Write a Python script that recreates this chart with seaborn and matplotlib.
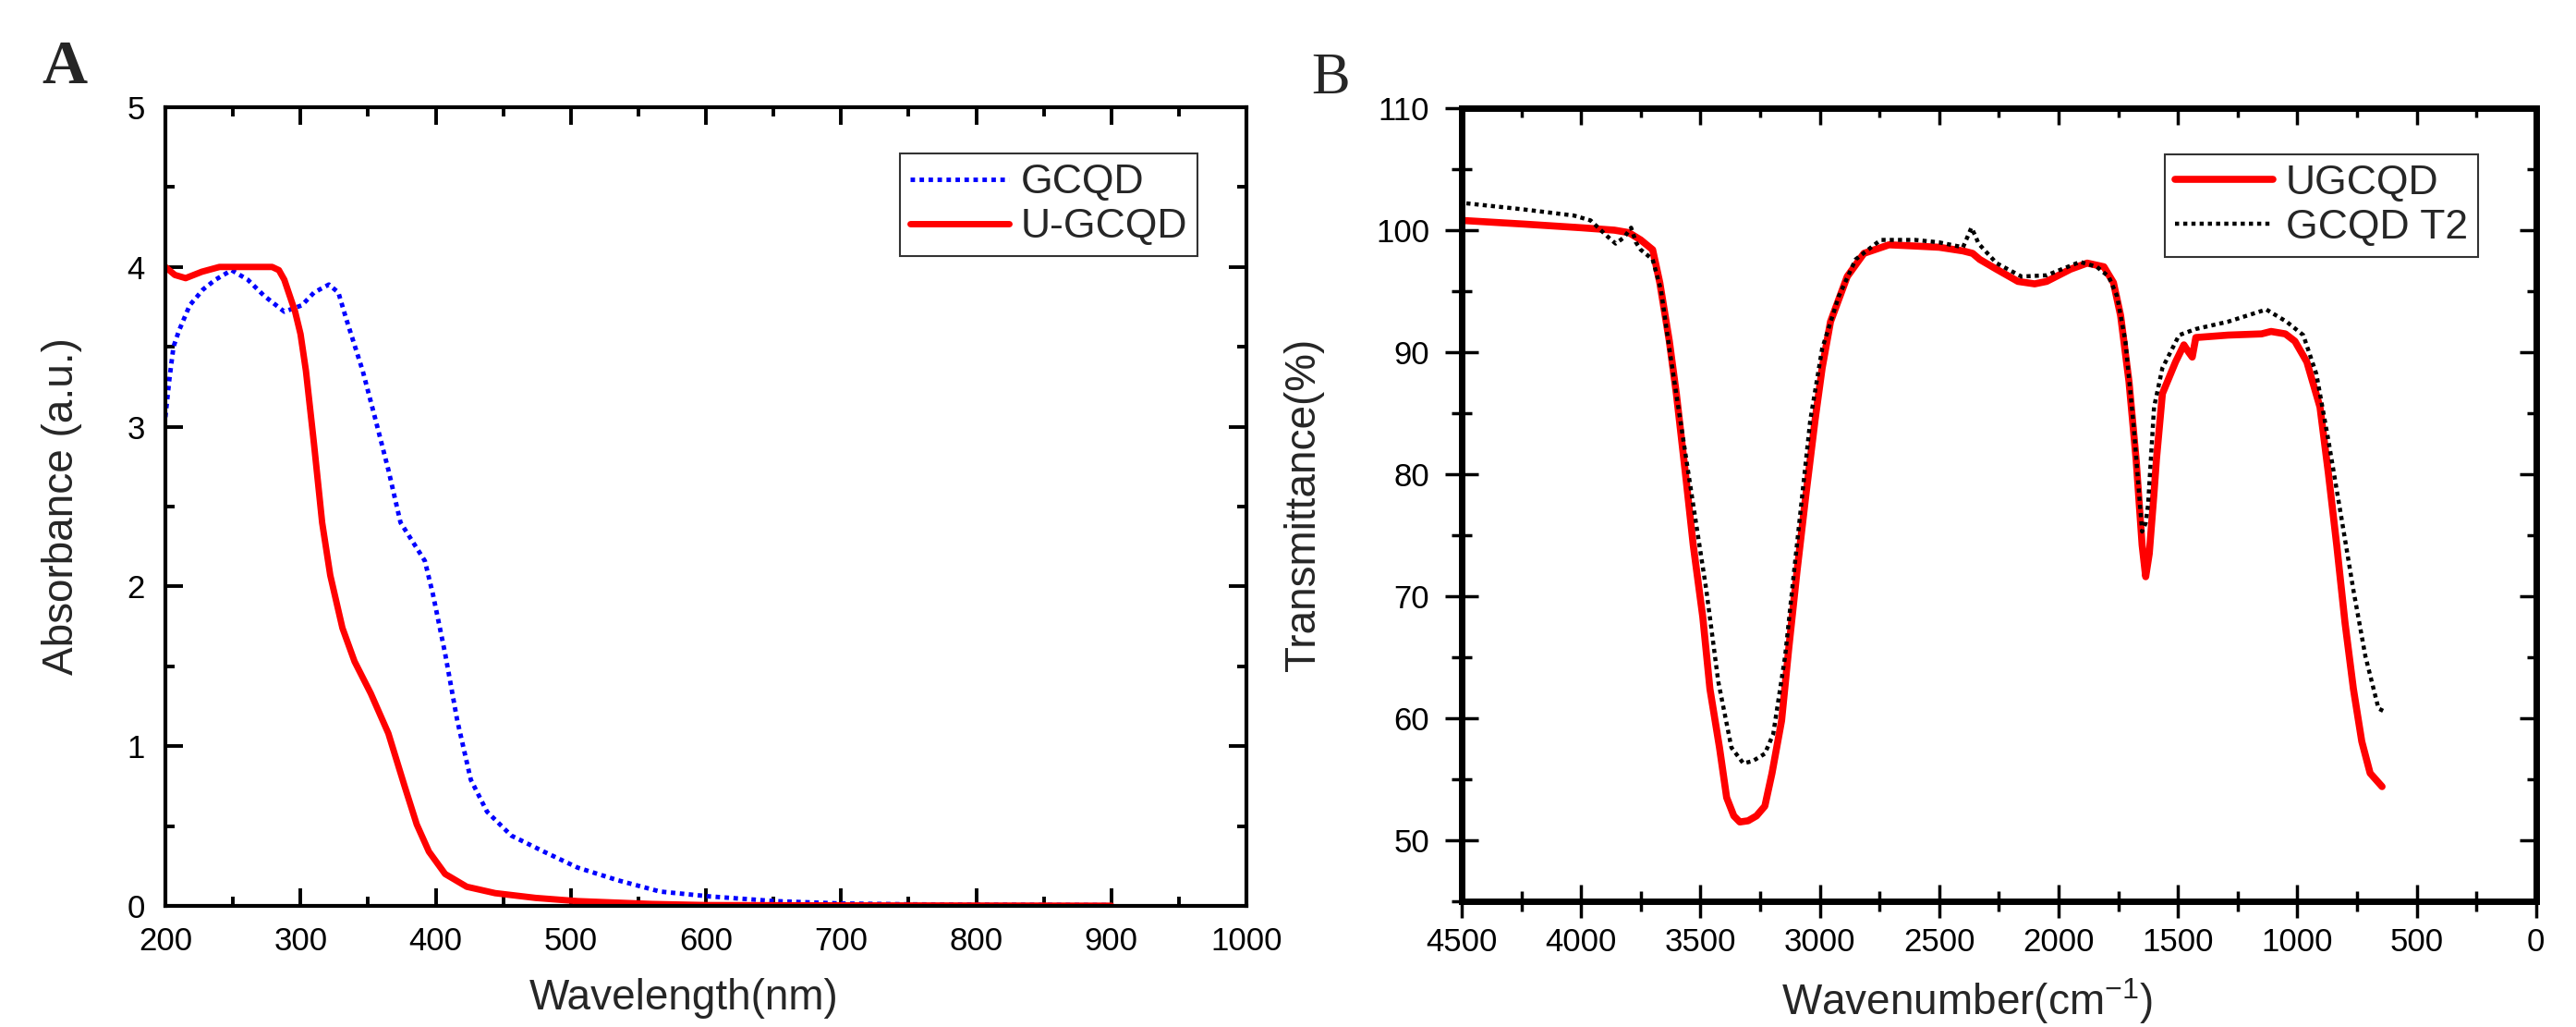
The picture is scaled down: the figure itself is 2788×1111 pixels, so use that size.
import numpy as np
import pandas as pd
import matplotlib
matplotlib.use("Agg")
import matplotlib.pyplot as plt
import seaborn as sns
from matplotlib.ticker import MultipleLocator

sns.set_theme(style="ticks")
plt.rcParams['font.family'] = ['Liberation Sans', 'DejaVu Sans']
plt.rcParams['mathtext.fontset'] = 'custom'
plt.rcParams['mathtext.rm'] = 'Liberation Sans'
plt.rcParams['mathtext.it'] = 'Liberation Sans:italic'

# ---- panel A: UV-vis absorbance ----
gcqd_wl = [200, 203, 206, 210, 218, 228, 237, 249, 261, 273, 288, 301, 310, 321, 328, 334,
           346, 355, 365, 374, 383, 392, 398, 407, 416, 426, 438, 456, 480, 505, 535, 566,
           602, 651, 700, 750, 800, 900]
gcqd_abs = [3.06, 3.3, 3.5, 3.6, 3.76, 3.86, 3.92, 3.98, 3.92, 3.82, 3.72, 3.76, 3.84, 3.89, 3.84, 3.67,
            3.35, 3.06, 2.73, 2.4, 2.28, 2.16, 1.95, 1.58, 1.16, 0.79, 0.59, 0.44, 0.34, 0.24, 0.16, 0.09,
            0.06, 0.03, 0.015, 0.01, 0.008, 0.005]

ugcqd_wl = [200, 207, 215, 227, 240, 260, 279, 284, 288, 292, 296, 300, 304, 310, 316, 322, 331,
            340, 352, 365, 377, 386, 395, 407, 423, 444, 474, 505, 560, 600, 700, 800, 900]
ugcqd_abs = [4.0, 3.95, 3.93, 3.97, 4.0, 4.0, 4.0, 3.98, 3.92, 3.82, 3.72, 3.58, 3.35, 2.89, 2.4, 2.07, 1.74,
             1.53, 1.33, 1.08, 0.75, 0.51, 0.34, 0.2, 0.12, 0.08, 0.05, 0.03, 0.012, 0.005, 0.003, 0.002, 0.001]

# ---- panel B: FTIR transmittance ----
ug_wn = [4500, 4240, 4000, 3860, 3800, 3750, 3700, 3670, 3630, 3600, 3560, 3530, 3490, 3460, 3420, 3390,
         3360, 3335, 3300, 3265, 3230, 3200, 3160, 3130, 3095, 3060, 3020, 2990, 2955, 2885, 2815, 2710,
         2600, 2500, 2400, 2360, 2330, 2260, 2170, 2100, 2050, 1950, 1880, 1810, 1770, 1740, 1705, 1675,
         1650, 1635, 1620, 1600, 1590, 1565, 1510, 1475, 1455, 1440, 1425, 1290, 1150, 1110, 1050, 1010,
         960, 905, 870, 835, 800, 765, 730, 695, 645]
ug_t = [100.8, 100.5, 100.2, 100.0, 99.8, 99.2, 98.4, 95.7, 90.9, 86.5, 79.6, 74.2, 68.3, 62.4, 57.6, 53.5,
        52.0, 51.5, 51.6, 52.0, 52.8, 55.5, 59.8, 65.7, 72.1, 78.0, 84.4, 88.7, 92.5, 96.2, 98.1, 98.8,
        98.7, 98.6, 98.3, 98.1, 97.6, 96.8, 95.8, 95.6, 95.8, 96.8, 97.3, 97.0, 95.7, 93.0, 87.6, 81.2,
        74.2, 71.6, 73.5, 78.5, 81.2, 86.6, 89.2, 90.6, 90.0, 89.6, 91.2, 91.4, 91.5, 91.7, 91.5, 90.9,
        89.2, 85.5, 80.1, 74.2, 67.8, 62.4, 58.1, 55.5, 54.4]

t2_wn = [4480, 4240, 4030, 3960, 3890, 3855, 3820, 3790, 3770, 3750, 3700, 3665, 3630, 3580, 3530, 3475,
         3425, 3370, 3320, 3280, 3230, 3195, 3145, 3110, 3075, 3040, 2990, 2920, 2850, 2745, 2600, 2500,
         2400, 2365, 2350, 2335, 2260, 2155, 2050, 1910, 1840, 1790, 1755, 1720, 1685, 1650, 1635, 1625,
         1600, 1565, 1495, 1425, 1290, 1130, 1045, 975, 920, 870, 815, 765, 715, 660, 640]
t2_t = [102.2, 101.7, 101.2, 100.8, 99.5, 98.9, 99.4, 100.2, 99.0, 98.4, 97.6, 95.1, 90.3, 83.9, 77.5, 70.5,
        63.0, 57.6, 56.3, 56.5, 57.1, 58.7, 65.1, 71.6, 78.0, 84.4, 90.3, 94.6, 97.6, 99.2, 99.2, 99.0,
        98.6, 100.2, 99.6, 98.9, 97.3, 96.2, 96.3, 97.4, 97.0, 96.2, 94.6, 90.9, 83.9, 75.3, 76.0, 77.5,
        85.5, 88.7, 91.4, 91.9, 92.5, 93.5, 92.5, 91.4, 88.2, 82.8, 76.4, 70.5, 65.1, 60.8, 60.6]

fig = plt.figure(figsize=(27.88, 11.11), dpi=100)
axA = fig.add_axes([0.0642, 0.1179, 0.4197, 0.7777])
axB = fig.add_axes([0.5674, 0.1224, 0.4171, 0.7723])

# panel A
sns.lineplot(x=gcqd_wl, y=gcqd_abs, ax=axA, color='#0000ff', lw=3.5,
             linestyle=(0, (1, 1)), label='GCQD', estimator=None, sort=False)
sns.lineplot(x=ugcqd_wl, y=ugcqd_abs, ax=axA, color='#ff0000', lw=5,
             label='U-GCQD', estimator=None, sort=False)
axA.set_xlim(200, 1000)
axA.set_ylim(0, 5)
axA.xaxis.set_major_locator(MultipleLocator(100))
axA.xaxis.set_minor_locator(MultipleLocator(50))
axA.yaxis.set_major_locator(MultipleLocator(1))
axA.yaxis.set_minor_locator(MultipleLocator(0.5))
axA.tick_params(which='both', direction='in', top=True, right=True, width=2.8,
                labelsize=25, colors='black')
axA.tick_params(which='major', length=14)
axA.tick_params(which='minor', length=7)
axA.tick_params(axis='x', pad=16)
axA.tick_params(axis='y', pad=16)
for s in axA.spines.values():
    s.set_linewidth(3)
    s.set_color('black')
axA.set_xlabel('Wavelength(nm)', fontsize=33)
axA.set_ylabel('Absorbance (a.u.)', fontsize=33)
axA.xaxis.set_label_coords(0.48, -0.09)
axA.yaxis.set_label_coords(-0.077, 0.5)
legA = axA.legend(loc='upper right', bbox_to_anchor=(0.955, 0.942), borderaxespad=0,
                  fontsize=32, frameon=True, fancybox=False, handlelength=2.4,
                  handletextpad=0.3, borderpad=0.25, labelspacing=0.16)
legA.get_frame().set_edgecolor('black')
legA.get_frame().set_linewidth(1.5)

# panel B
sns.lineplot(x=ug_wn, y=ug_t, ax=axB, color='#ff0000', lw=5.5,
             label='UGCQD', estimator=None, sort=False)
sns.lineplot(x=t2_wn, y=t2_t, ax=axB, color='black', lw=3.2,
             linestyle=(0, (1, 1)), label='GCQD T2', estimator=None, sort=False)
axB.set_xlim(4500, 0)
axB.set_ylim(45, 110)
axB.xaxis.set_major_locator(MultipleLocator(500))
axB.xaxis.set_minor_locator(MultipleLocator(250))
axB.yaxis.set_major_locator(MultipleLocator(10))
axB.yaxis.set_minor_locator(MultipleLocator(5))
axB.tick_params(which='both', direction='inout', top=False, right=False, width=2.5,
                labelsize=25, colors='black')
axB.tick_params(which='major', length=26)
axB.tick_params(which='minor', length=16)
axB.tick_params(axis='x', pad=7)
axB.tick_params(axis='y', pad=12)
for s in axB.spines.values():
    s.set_linewidth(5)
    s.set_color('black')

secx = axB.secondary_xaxis('top')
secx.xaxis.set_major_locator(MultipleLocator(500))
secx.xaxis.set_minor_locator(MultipleLocator(250))
secx.tick_params(which='both', direction='in', labeltop=False, width=2.5, colors='black')
secx.tick_params(which='major', length=13)
secx.tick_params(which='minor', length=7)
secx.spines['top'].set_linewidth(5)
secy = axB.secondary_yaxis('right')
secy.yaxis.set_major_locator(MultipleLocator(10))
secy.yaxis.set_minor_locator(MultipleLocator(5))
secy.tick_params(which='both', direction='in', labelright=False, width=2.5, colors='black')
secy.tick_params(which='major', length=13)
secy.tick_params(which='minor', length=7)
secy.spines['right'].set_linewidth(5)

axB.set_xlabel('Wavenumber(cm$^{-1}$)', fontsize=33)
axB.set_ylabel('Transmittance(%)', fontsize=33)
axB.xaxis.set_label_coords(0.47, -0.095)
axB.yaxis.set_label_coords(-0.128, 0.5)
legB = axB.legend(loc='upper right', bbox_to_anchor=(0.946, 0.942), borderaxespad=0,
                  fontsize=32, frameon=True, fancybox=False, handlelength=2.4,
                  handletextpad=0.3, borderpad=0.25, labelspacing=0.16)
legB.get_frame().set_edgecolor('black')
legB.get_frame().set_linewidth(1.5)

fig.text(0.0251, 0.934, 'A', fontsize=49, fontweight='bold', family='Liberation Serif',
         ha='center', va='center')
fig.text(0.5165, 0.9226, 'B', fontsize=45, family='Liberation Serif',
         ha='center', va='center')

fig.savefig('out.png', dpi=100, facecolor='white')
